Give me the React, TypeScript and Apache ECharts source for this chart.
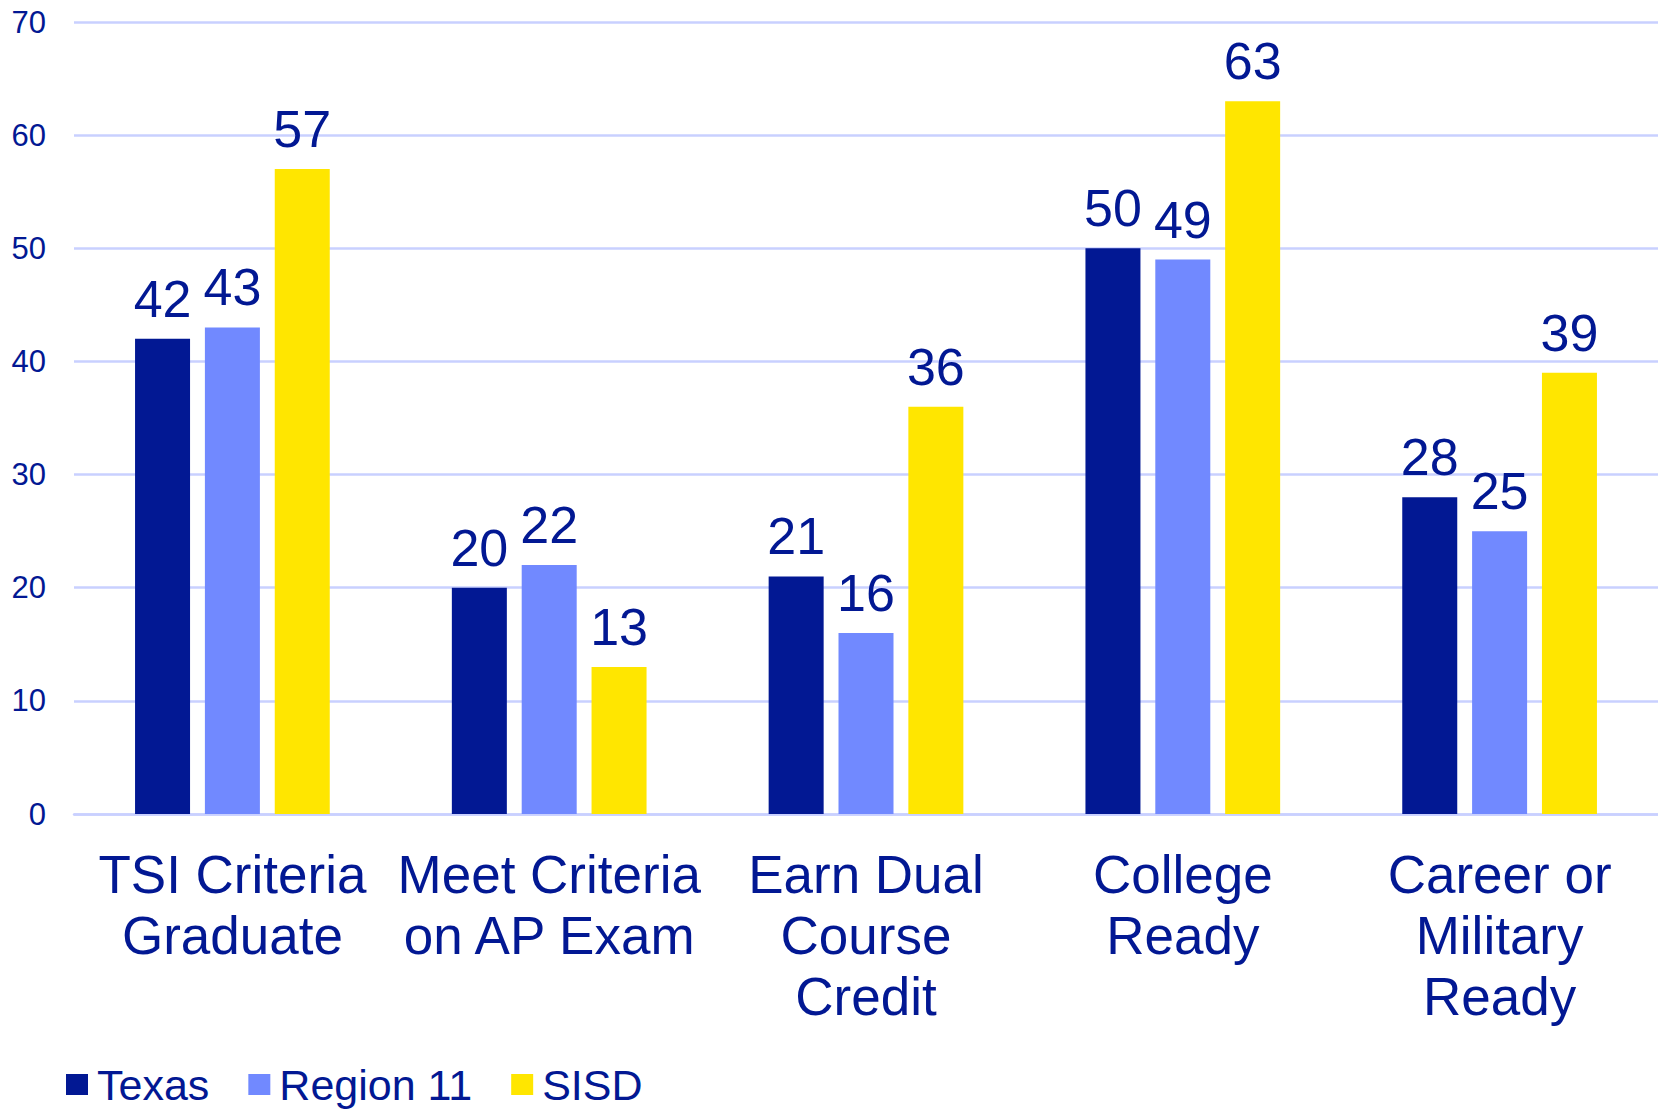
import React, { useEffect, useRef } from "react";
import * as echarts from "echarts";

const categories = [
  "TSI Criteria\nGraduate",
  "Meet Criteria\non AP Exam",
  "Earn Dual\nCourse\nCredit",
  "College\nReady",
  "Career or\nMilitary\nReady",
];
const seriesNames = ["Texas", "Region 11", "SISD"];
const texas = [42, 20, 21, 50, 28];
const region11 = [43, 22, 16, 49, 25];
const sisd = [57, 13, 36, 63, 39];
const seriesColors = ["#021893", "#7189FF", "#FFE600"];
const yTicks = { min: 0, max: 70, interval: 10 };

const TEXT = "#021893";
const GRID = "#C9D0FF";
const FONT = "'Liberation Sans', Arial, sans-serif";

export default function App() {
  const ref = useRef<HTMLDivElement>(null);
  useEffect(() => {
    if (!ref.current) return;
    const chart = echarts.init(ref.current, undefined, { renderer: "svg" });
    const values = [texas, region11, sisd];
    chart.setOption({
      animation: false,
      textStyle: { fontFamily: FONT },
      grid: { left: 74, right: 0, top: 22, bottom: 295, containLabel: false },
      legend: {
        left: 66,
        top: 1063,
        padding: 0,
        itemWidth: 22,
        itemHeight: 21,
        itemGap: 39,
        icon: "rect",
        data: seriesNames,
        textStyle: {
          fontSize: 43,
          color: TEXT,
          fontFamily: FONT,
          lineHeight: 40,
          padding: [0, 0, 0, 4],
        },
      },
      xAxis: {
        type: "category",
        data: categories,
        axisLine: { show: true, lineStyle: { color: GRID, width: 2.5 } },
        axisTick: { show: false },
        axisLabel: {
          interval: 0,
          color: TEXT,
          fontSize: 53,
          lineHeight: 61,
          margin: 30,
          fontFamily: FONT,
        },
      },
      yAxis: {
        type: "value",
        min: yTicks.min,
        max: yTicks.max,
        interval: yTicks.interval,
        axisLine: { show: false },
        axisTick: { show: false },
        splitLine: { lineStyle: { color: GRID, width: 2.5 } },
        axisLabel: { color: TEXT, fontSize: 31, margin: 28, fontFamily: FONT },
      },
      series: seriesNames.map((name, i) => ({
        name,
        type: "bar",
        data: values[i],
        barWidth: 55,
        barGap: "27%",
        itemStyle: { color: seriesColors[i] },
        label: {
          show: true,
          position: "top",
          distance: 14,
          color: TEXT,
          fontSize: 52,
          fontFamily: FONT,
        },
      })),
    });
    return () => chart.dispose();
  }, []);
  return (
    <div
      ref={ref}
      style={{ position: "fixed", left: 0, top: 0, width: 1658, height: 1109, background: "#fff" }}
    />
  );
}
